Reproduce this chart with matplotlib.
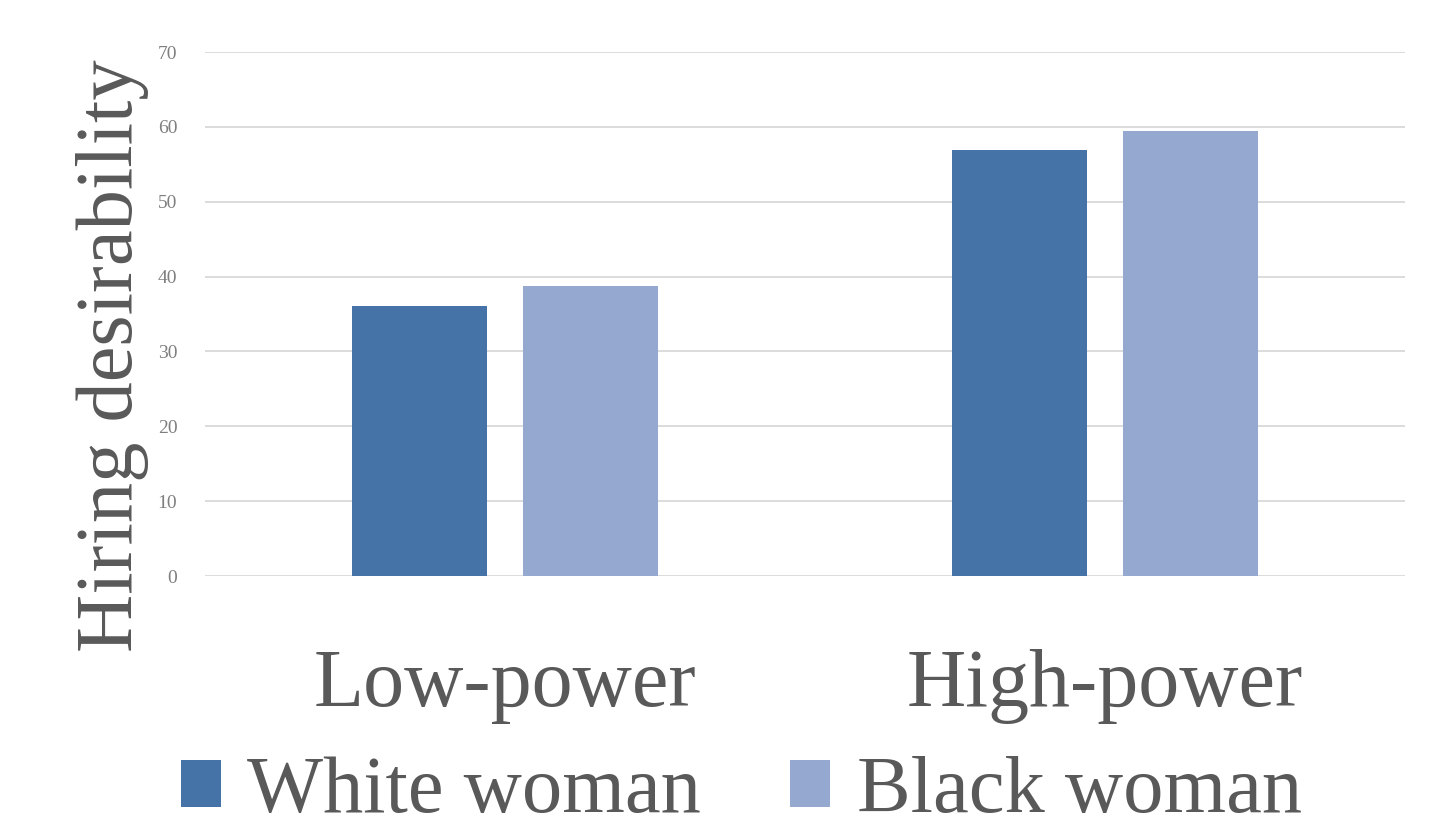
import numpy as np
import matplotlib.pyplot as plt
from matplotlib.patches import Patch

plt.rcParams['font.family'] = ['Liberation Serif', 'DejaVu Serif']

categories = ['Low-power', 'High-power']
series = ['White woman', 'Black woman']
white_woman = [36.1, 56.9]
black_woman = [38.8, 59.5]
colors = ['#4572A7', '#95A9D0']
text_grey = '#595959'

fig = plt.figure(figsize=(14.31, 8.30), dpi=100)
ax = fig.add_axes([0.1433, 0.306, 0.8385, 0.6313])

x = np.arange(len(categories))
w = 0.225
ax.bar(x - 0.1425, white_woman, w, color=colors[0], zorder=3)
ax.bar(x + 0.1425, black_woman, w, color=colors[1], zorder=3)

ax.set_xlim(-0.5, 1.5)
ax.set_ylim(0, 70)
ax.set_yticks(range(0, 71, 10))
ax.yaxis.grid(True, color='#d9d9d9', linewidth=1.3, zorder=0)
for s in ax.spines.values():
    s.set_visible(False)
ax.tick_params(axis='y', length=0, pad=20, labelsize=14, labelcolor='#7f7f7f')
ax.tick_params(axis='x', length=0, pad=52, labelsize=59, labelcolor=text_grey)
ax.set_xticks(x)
ax.set_xticklabels(categories)
ax.set_ylabel('Hiring desirability', fontsize=58, color=text_grey, labelpad=6, y=0.42)

handles = [Patch(facecolor=c, label=l) for c, l in zip(colors, series)]
fig.legend(handles=handles, loc='center', bbox_to_anchor=(0.518, 0.045), ncol=2,
           frameon=False, fontsize=58, handlelength=0.5, handleheight=0.52,
           handletextpad=0.33, columnspacing=1.1, labelcolor=text_grey,
           borderpad=0.1)

fig.savefig('out.png', dpi=100)
